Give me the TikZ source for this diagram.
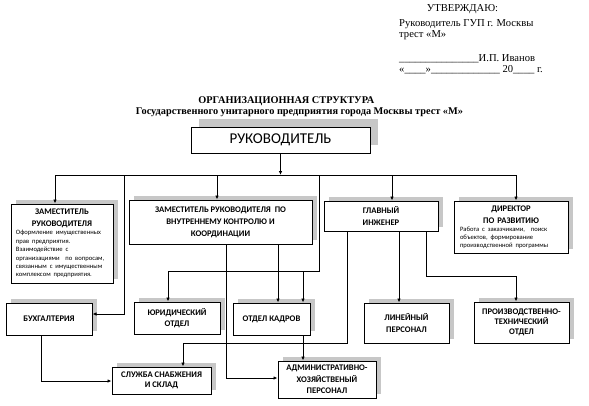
\documentclass[tikz,border=0pt]{standalone}
\usepackage{fontspec}
\setmainfont{Liberation Serif}
\newfontfamily\calib{Carlito}
\usetikzlibrary{arrows.meta,shadows}
\begin{document}
\begin{tikzpicture}[x=1pt,y=-1pt,
  plainbox/.style={draw=black, line width=1pt, fill=white, inner sep=1pt, align=center,
    font=\calib\bfseries\fontsize{8.6}{12}\selectfont},
  sh/.style={drop shadow={shadow xshift=5pt, shadow yshift=4pt, fill=black!22, opacity=1}},
  bigsh/.style={drop shadow={shadow xshift=8pt, shadow yshift=8pt, fill=black!22, opacity=1}},
  box/.style={plainbox, sh},
  hdr/.style={anchor=base west, font=\fontsize{10.6}{12}\selectfont, inner sep=0pt},
  ttl/.style={anchor=base, font=\bfseries\fontsize{10.3}{12}\selectfont, inner sep=0pt},
  conn/.style={line width=0.9pt},
  arr/.style={conn, -{Latex[length=4pt,width=3.5pt]}},
]
\useasboundingbox[fill=white] (0,0) rectangle (589,405);

% header
\node[hdr] (h1) at (426.7,11.3) {УТВЕРЖДАЮ:};
\node[hdr] (h2) at (399,26) {Руководитель ГУП г. Москвы};
\node[hdr] (h3) at (399,37.3) {трест «М»};
\node[hdr] (h4) at (399,61) {\_\_\_\_\_\_\_\_\_\_\_\_\_\_\_И.П. Иванов};
\node[hdr] (h5) at (399,72.7) {«\_\_\_\_»\_\_\_\_\_\_\_\_\_\_\_\_\_ 20\_\_\_\_ г.};

% title
\node[ttl] (t1) at (286.3,103.5) {ОРГАНИЗАЦИОННАЯ СТРУКТУРА};
\node[ttl] (t2) at (299.5,114) {Государственного унитарного предприятия города Москвы трест «М»};

% boxes
\node[plainbox, bigsh, font=\calib\fontsize{15}{17}\selectfont, minimum width=179, minimum height=26] (ruk) at (280.5,140) {РУКОВОДИТЕЛЬ};

\node[box, minimum width=102, minimum height=79, text width=92pt, align=left] (zam1) at (62,243.5)
 {{\centering ЗАМЕСТИТЕЛЬ\\ РУКОВОДИТЕЛЯ\par}\raggedright\mdseries\fontsize{6.6}{8.4}\selectfont
  Оформление имущественных\\ прав предприятия.\\ Взаимодействие с\\ организациями\ \ по вопросам,\\ связанным с имущественным\\ комплексом предприятия.\par};

\node[box, minimum width=183, minimum height=44] (zam2) at (220.5,222)
 {ЗАМЕСТИТЕЛЬ РУКОВОДИТЕЛЯ\ \ ПО\\ ВНУТРЕННЕМУ КОНТРОЛЮ И\\ КООРДИНАЦИИ};

\node[box, minimum width=114, minimum height=30, font=\calib\bfseries\fontsize{8.6}{12.7}\selectfont] (gi) at (381,216) {ГЛАВНЫЙ\\ ИНЖЕНЕР};

\node[box, minimum width=114, minimum height=52, text width=102pt, align=left] (dir) at (511,227)
 {{\centering ДИРЕКТОР\\ ПО РАЗВИТИЮ\par}\raggedright\mdseries\fontsize{6.6}{8}\selectfont
  Работа с заказчиками,\ \ поиск\\ объектов, формирование\\ производственной программы\par};

\node[box, minimum width=86, minimum height=32] (buh) at (49,319) {БУХГАЛТЕРИЯ};
\node[box, minimum width=86, minimum height=32, font=\calib\bfseries\fontsize{8.6}{10.5}\selectfont] (yur) at (177,318) {ЮРИДИЧЕСКИЙ\\ ОТДЕЛ};
\node[box, minimum width=77, minimum height=32] (ok) at (271.5,319) {ОТДЕЛ КАДРОВ};
\node[box, minimum width=85, minimum height=40, font=\calib\bfseries\fontsize{8.6}{11.7}\selectfont] (lin) at (406.5,323) {ЛИНЕЙНЫЙ\\ ПЕРСОНАЛ};
\node[box, minimum width=95, minimum height=41, font=\calib\bfseries\fontsize{8.6}{10}\selectfont] (pto) at (521.5,322.5) {ПРОИЗВОДСТВЕННО-\\ ТЕХНИЧЕСКИЙ\\ ОТДЕЛ};
\node[box, minimum width=99, minimum height=27, font=\calib\bfseries\fontsize{8.6}{10.6}\selectfont] (sl) at (161.5,380.5) {СЛУЖБА СНАБЖЕНИЯ\\ И СКЛАД};
\node[box, minimum width=98, minimum height=37, font=\calib\bfseries\fontsize{8.6}{11.3}\selectfont] (adm) at (327,379.5) {АДМИНИСТРАТИВНО-\\ ХОЗЯЙСТВЕНЫЙ\\ ПЕРСОНАЛ};

% connectors
\coordinate (bL) at (55,175);
\coordinate (bR) at (516,175);
\coordinate (bB) at (124,175);
\coordinate (bZ) at (217,175);
\coordinate (bK) at (319,175);
\coordinate (bG) at (392,175);
\draw[conn] (bL) -- (bR);
\draw[arr] (ruk.south) -- (ruk.south |- bL);
\draw[arr] (bL) -- (bL |- zam1.north);
\draw[arr] (bZ) -- (bZ |- zam2.north);
\draw[arr] (bG) -- (bG |- gi.north);
\draw[arr] (bR) -- (bR |- dir.north);

\coordinate (tB) at (124,314);
\draw[arr] (bB) -- (tB) -- (tB -| buh.east);

\coordinate (kL) at (168,271);
\coordinate (kR) at (303,271);
\draw[arr] (bK) |- (kL) -- (kL |- yur.north);
\draw[arr] (kR) -- (kR |- ok.north);

\coordinate (zK) at (278,0);
\draw[arr] (zK |- zam2.south) -- (zK |- ok.north);
\coordinate (aL) at (226,378);
\draw[arr] (aL |- zam2.south) -- (aL) -- (aL -| adm.west);
\draw[arr] (kR |- ok.south) -- (kR |- adm.north);

\coordinate (gS) at (347,343);
\coordinate (sS) at (183,343);
\draw[arr] (gS |- gi.south) -- (gS) -- (sS) -- (sS |- sl.north);
\coordinate (gL) at (399,0);
\draw[arr] (gL |- gi.south) -- (gL |- lin.north);
\coordinate (gP) at (426,276);
\coordinate (pP) at (516,276);
\draw[arr] (gP |- gi.south) -- (gP) -- (pP) -- (pP |- pto.north);

\coordinate (bS) at (41,381);
\draw[arr] (bS |- buh.south) -- (bS) -- (bS -| sl.west);
\end{tikzpicture}
\end{document}
